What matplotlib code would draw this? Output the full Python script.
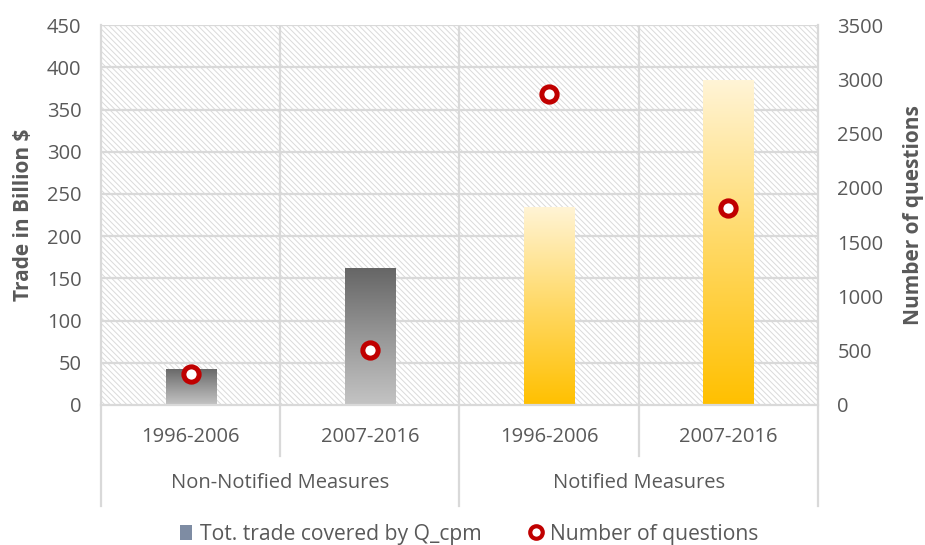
import numpy as np
import matplotlib.pyplot as plt
from matplotlib.patches import Rectangle, Patch
from matplotlib.lines import Line2D
from matplotlib.colors import LinearSegmentedColormap

periods = ['1996-2006', '2007-2016', '1996-2006', '2007-2016']
groups = ['Non-Notified Measures', 'Notified Measures']
trade = [43, 162, 235, 385]          # Trade in Billion $
questions = [290, 510, 2865, 1815]   # Number of questions
bar_kind = ['grey', 'grey', 'gold', 'gold']

txt = '#595959'
grid = '#d9d9d9'
fs = 14.5
plt.rcParams['font.family'] = ['Open Sans', 'DejaVu Sans']
plt.rcParams['hatch.color'] = '#dadada'
plt.rcParams['hatch.linewidth'] = 0.7

fig = plt.figure(figsize=(9.25, 5.45), dpi=100)
ax = fig.add_axes([0.1092, 0.2569, 0.775, 0.697])
ax2 = ax.twinx()

x = np.arange(len(periods))

# hatched plot background
ax.add_patch(Rectangle((0, 0), 1, 1, transform=ax.transAxes, facecolor='white',
                       edgecolor='#dadada', hatch='\\' * 6, lw=0, zorder=0))

for v in np.arange(50, 451, 50):
    ax.axhline(v, color=grid, lw=1.6, zorder=1)
for xv in [0.5, 1.5, 2.5]:
    ax.axvline(xv, color=grid, lw=1.6, zorder=1)

cmaps = {
    'grey': LinearSegmentedColormap.from_list('g', ['#c4c4c4', '#979797', '#666666']),
    'gold': LinearSegmentedColormap.from_list('y', ['#ffc000', '#ffd966', '#fff4d6']),
}
w = 0.28
for xi, h, k in zip(x, trade, bar_kind):
    bar = ax.bar(xi, h, width=w, color='none', zorder=2)[0]
    grad = np.linspace(0, 1, 256).reshape(-1, 1)
    im = ax.imshow(grad, cmap=cmaps[k], origin='lower', aspect='auto',
                   extent=[xi - w / 2, xi + w / 2, 0, h], zorder=2)
    im.set_clip_path(bar)
ax.set_xlim(-0.5, 3.5)
ax.set_ylim(0, 450)
ax2.set_ylim(0, 3500)
ax.set_yticks(np.arange(0, 451, 50))
ax2.set_yticks(np.arange(0, 3501, 500))

ax2.plot(x, questions, 'o', ms=11, mew=3.6, mec='#c00000', mfc='white',
         ls='none', zorder=5)

for a in (ax, ax2):
    for s in a.spines.values():
        s.set_visible(False)
    a.tick_params(length=0, labelsize=fs, colors=txt)
ax.spines['bottom'].set_visible(True)
ax.spines['bottom'].set_color(grid)
ax.spines['bottom'].set_linewidth(1.6)

ax.set_xticks(x)
ax.set_xticklabels(periods)
ax.tick_params(axis='x', pad=16)
ax.tick_params(axis='y', pad=14)
ax2.tick_params(axis='y', pad=14)

ax.set_ylabel('Trade in Billion $', fontsize=15, fontweight='bold', color=txt, labelpad=9)
ax2.set_ylabel('Number of questions', fontsize=15, fontweight='bold', color=txt, labelpad=14)

# category separators below the axis
tr = ax.get_xaxis_transform()
for xv, low in [(-0.5, -0.265), (0.5, -0.135), (1.5, -0.265), (2.5, -0.135), (3.5, -0.265)]:
    ax.plot([xv, xv], [1 if xv in (-0.5, 3.5) else 0, low], color=grid, lw=1.6,
            transform=tr, clip_on=False, zorder=0)
for gi, g in enumerate(groups):
    ax.text(gi * 2 + 0.5, -0.205, g, transform=tr, ha='center', va='center',
            fontsize=fs, color=txt)

handles = [Patch(facecolor='#7e8ca3', edgecolor='none'),
           Line2D([], [], marker='o', ls='none', ms=9, mew=3, mec='#c00000', mfc='white')]
fig.legend(handles, ['Tot. trade covered by Q_cpm', 'Number of questions'],
           loc='center', bbox_to_anchor=(0.507, 0.02), ncol=2, frameon=False,
           fontsize=15.2, labelcolor=txt, handlelength=0.6, handletextpad=0.35,
           columnspacing=2.3)

fig.savefig('out.png', dpi=100)
